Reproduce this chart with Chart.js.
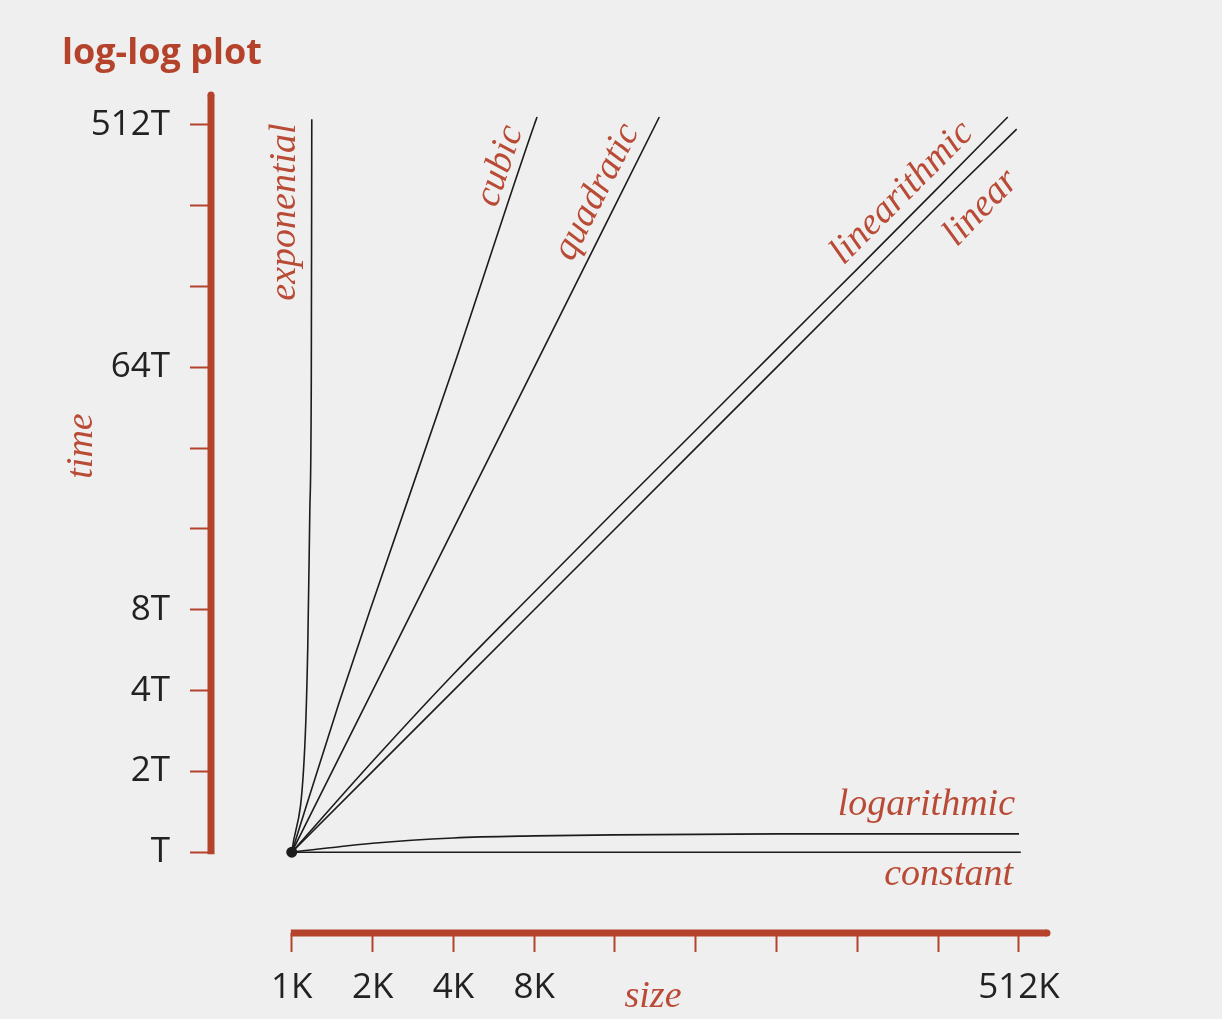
<!DOCTYPE html>
<html>
<head>
<meta charset="utf-8">
<title>log-log plot</title>
<script src="https://cdn.jsdelivr.net/npm/chart.js@4.4.0/dist/chart.umd.min.js"></script>
<style>
  html, body { margin: 0; padding: 0; background: #efefef; }
  #wrap { width: 1222px; height: 1019px; }
</style>
</head>
<body>
<div id="wrap"><canvas id="chart" width="1222" height="1019"></canvas></div>
<script>
// problem size in K, running time in T
const sizeTicks = [1, 2, 4, 8, 16, 32, 64, 128, 256, 512];
const sizeLabels = ['1K', '2K', '4K', '8K', '', '', '', '', '', '512K'];
const timeTicks = [1, 2, 4, 8, 16, 32, 64, 128, 256, 512];
const timeLabels = ['T', '2T', '4T', '8T', '', '', '64T', '', '', '512T'];

// curves
const constantX = [1, 520];
const constantY = [1, 1];
const logarithmicX = [1, 2, 4, 8, 16, 64, 512];
const logarithmicY = [1, 1.08, 1.13, 1.15, 1.16, 1.17, 1.17];
const linearX = [1, 2, 4, 8, 16, 32, 64, 128, 256, 502];
const linearY = [1, 2, 4, 8, 16, 32, 64, 128, 256, 494];
const linearithmicX = [1, 2, 4, 8, 16, 32, 64, 128, 256, 465];
const linearithmicY = [1, 2.18, 4.6, 9.3, 18.7, 37.3, 74.7, 149, 299, 548];
const quadraticX = [1, 2, 4, 8, 16, 23.4];
const quadraticY = [1, 4, 16, 64, 256, 548];
const cubicX = [1, 1.5, 2, 4, 8, 8.2];
const cubicY = [1, 3.6, 8.5, 64, 512, 548];
const exponentialX = [1, 1.118, 1.147, 1.167, 1.182, 1.187];
const exponentialY = [1, 2.48, 5.86, 18.5, 57.8, 538];

const RED = '#b5432c';
const LABEL_RED = '#b94a35';
const INK = '#1c1c1c';

function pts(xs, ys) {
    return xs.map((x, i) => ({ x: x, y: ys[i] }));
}

function curve(label, xs, ys, mode) {
    return {
        label: label,
        data: pts(xs, ys),
        showLine: true,
        borderColor: INK,
        borderWidth: 1.6,
        pointRadius: 0,
        tension: mode ? 0.4 : 0,
        cubicInterpolationMode: mode || 'default'
    };
}

// axis lines sit one doubling away from the data origin
const axisLines = {
    id: 'axisLines',
    beforeDatasetsDraw(chart) {
        const { ctx, chartArea, scales } = chart;
        const x = scales.x, y = scales.y;
        ctx.save();
        ctx.strokeStyle = RED;
        ctx.lineWidth = 7;
        ctx.lineCap = 'butt';
        ctx.beginPath();
        ctx.moveTo(chartArea.left, y.getPixelForValue(timeTicks[0]) + 2);
        ctx.lineTo(chartArea.left, chartArea.top + 3);
        ctx.moveTo(x.getPixelForValue(sizeTicks[0]) - 1, chartArea.bottom);
        ctx.lineTo(chartArea.right - 3, chartArea.bottom);
        ctx.stroke();
        ctx.fillStyle = RED;
        ctx.beginPath();
        ctx.arc(chartArea.left, chartArea.top + 3, 3.5, 0, Math.PI * 2);
        ctx.arc(chartArea.right - 3, chartArea.bottom, 3.5, 0, Math.PI * 2);
        ctx.fill();
        ctx.restore();
    }
};

const curveLabels = [
    { text: 'exponential', x: 285, y: 212, angle: -90 },
    { text: 'cubic', x: 500, y: 166, angle: -71.6 },
    { text: 'quadratic', x: 597, y: 192, angle: -63 },
    { text: 'linearithmic', x: 902, y: 193, angle: -45 },
    { text: 'linear', x: 981, y: 208, angle: -46 },
    { text: 'time', x: 82, y: 446, angle: -90 },
    { text: 'size', x: 653, y: 997, angle: 0 }
];

const textPlugin = {
    id: 'texts',
    afterDraw(chart) {
        const ctx = chart.ctx;
        ctx.save();
        ctx.fillStyle = RED;
        ctx.font = 'bold 36px "Open Sans"';
        ctx.textAlign = 'left';
        ctx.textBaseline = 'alphabetic';
        ctx.fillText('log-log plot', 62, 64);

        ctx.fillStyle = LABEL_RED;
        ctx.font = 'italic 38px "Liberation Serif"';
        ctx.textBaseline = 'middle';
        ctx.textAlign = 'center';
        curveLabels.forEach(l => {
            ctx.save();
            ctx.translate(l.x, l.y);
            ctx.rotate(l.angle * Math.PI / 180);
            ctx.fillText(l.text, 0, 0);
            ctx.restore();
        });
        ctx.textAlign = 'right';
        ctx.textBaseline = 'alphabetic';
        ctx.fillText('logarithmic', 1015, 815);
        ctx.fillText('constant', 1013, 885);
        ctx.restore();
    }
};

new Chart(document.getElementById('chart'), {
    type: 'scatter',
    data: {
        datasets: [
            curve('constant', constantX, constantY),
            curve('logarithmic', logarithmicX, logarithmicY, 'monotone'),
            curve('linear', linearX, linearY),
            curve('linearithmic', linearithmicX, linearithmicY, 'monotone'),
            curve('quadratic', quadraticX, quadraticY),
            curve('cubic', cubicX, cubicY, 'monotone'),
            curve('exponential', exponentialX, exponentialY, 'monotone'),
            {
                label: 'origin',
                data: pts([sizeTicks[0]], [timeTicks[0]]),
                pointRadius: 5.5,
                backgroundColor: INK,
                borderWidth: 0
            }
        ]
    },
    options: {
        responsive: false,
        animation: false,
        layout: { padding: { top: 92, right: 172, left: 0, bottom: 0 } },
        plugins: {
            legend: { display: false },
            tooltip: { enabled: false }
        },
        scales: {
            x: {
                type: 'logarithmic',
                min: 0.5,
                max: 668,
                border: { display: false },
                grid: {
                    drawOnChartArea: false,
                    drawTicks: true,
                    tickLength: 19,
                    tickColor: RED,
                    tickWidth: 2
                },
                ticks: {
                    autoSkip: false,
                    maxRotation: 0,
                    padding: 15,
                    color: '#222',
                    font: { family: 'Open Sans', size: 35 },
                    callback: (v) => sizeLabels[sizeTicks.indexOf(v)] ?? ''
                },
                afterBuildTicks: (s) => { s.ticks = sizeTicks.map(v => ({ value: v })); },
                afterFit: (s) => { s.height = 86; s.paddingLeft = 0; s.paddingRight = 0; }
            },
            y: {
                type: 'logarithmic',
                min: 0.5,
                max: 679,
                border: { display: false },
                grid: {
                    drawOnChartArea: false,
                    drawTicks: true,
                    tickLength: 21,
                    tickColor: RED,
                    tickWidth: 2
                },
                ticks: {
                    autoSkip: false,
                    padding: 20,
                    color: '#222',
                    font: { family: 'Open Sans', size: 35 },
                    callback: (v) => timeLabels[timeTicks.indexOf(v)] ?? ''
                },
                afterBuildTicks: (s) => { s.ticks = timeTicks.map(v => ({ value: v })); },
                afterFit: (s) => { s.width = 211; s.paddingTop = 0; s.paddingBottom = 0; }
            }
        }
    },
    plugins: [axisLines, textPlugin]
});
</script>
</body>
</html>
